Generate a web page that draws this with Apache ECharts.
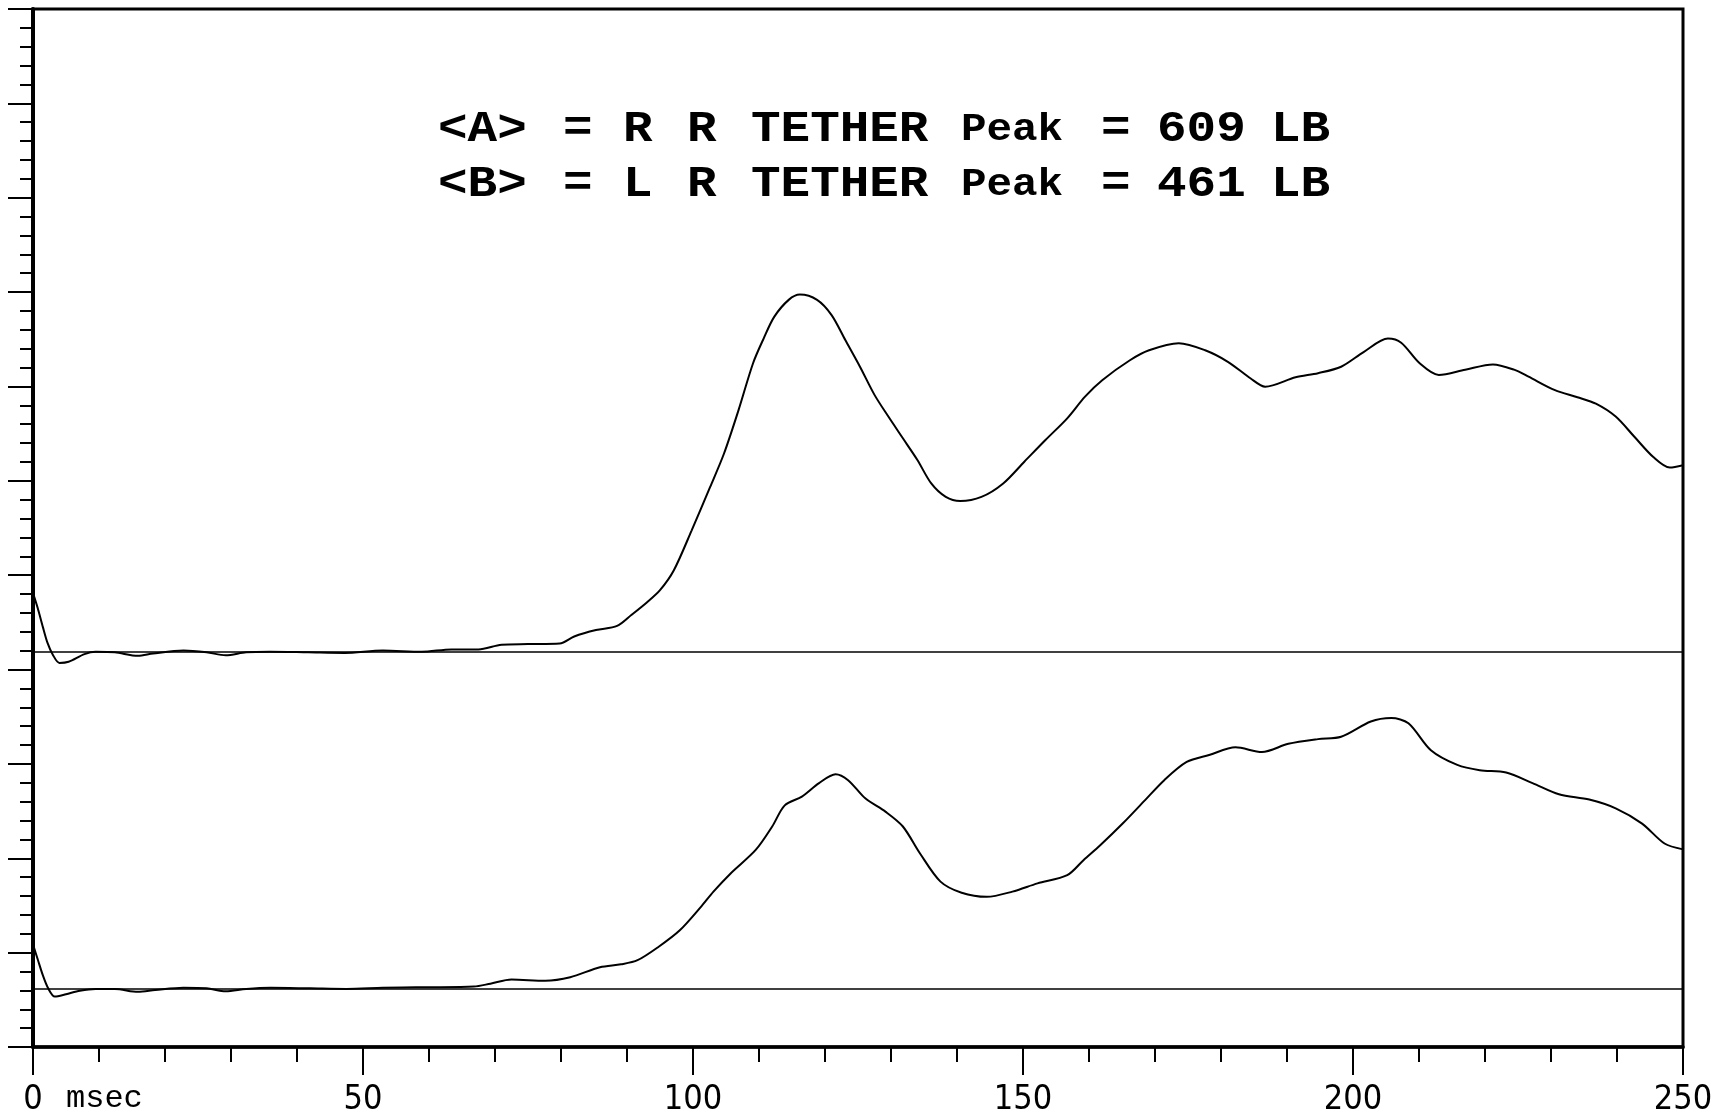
<!DOCTYPE html>
<html>
<head>
<meta charset="utf-8">
<script src="https://cdn.jsdelivr.net/npm/echarts@6/dist/echarts.min.js"></script>
<style>
html,body{margin:0;padding:0;background:#fff;}
#chart{width:1720px;height:1119px;}
</style>
</head>
<body>
<div id="chart"></div>
<script>
// ---- data (time in msec, force in LB, each trace relative to its own zero line) ----
const timeA = [0, 0.7, 1.5, 2.2, 3, 4, 5.4, 7.8, 9.5, 12.4, 15.9, 18.2, 22.8, 26.3, 29.2, 32.3, 35.9, 41.7, 47.2, 53, 58.9, 63.4, 67.5, 71, 75, 79.8, 82, 85.3, 88.5, 90.7, 93, 95, 97.1, 99.8, 102.6, 104.7, 106.9, 109.1, 110.7, 112.3, 114.5, 116.2, 118.8, 121, 123.1, 125.3, 127.5, 129.6, 131.8, 134, 136.1, 138.3, 140.5, 143.7, 147, 150.2, 153.4, 156.7, 159.4, 162, 166.2, 169.1, 173.6, 177.6, 181.1, 184.5, 186.7, 191.3, 194.7, 198.2, 201.6, 205.3, 207.3, 210.1, 213, 217, 221.2, 224.4, 226.6, 230.6, 234, 236.8, 239.8, 242.6, 245.5, 248, 250];
const forceA = [100, 75, 42, 15, -5, -19, -17, -4, 0, -1, -7, -3, 2, -1, -6, -1, 0, -1, -2, 2, 0, 4, 4, 12, 13, 14, 26, 37, 44, 63, 84, 105, 139, 207, 281, 338, 412, 492, 534, 571, 600, 609, 600, 574, 531, 486, 438, 401, 364, 327, 287, 264, 257, 264, 287, 324, 361, 398, 435, 463, 497, 514, 526, 514, 494, 466, 452, 468, 475, 486, 511, 534, 527, 492, 472, 481, 490, 481, 469, 446, 434, 423, 401, 367, 332, 314, 318];

const timeB = [0, 0.7, 1.5, 2.3, 3.3, 5, 7.1, 9.5, 12.4, 15.9, 18.5, 22.8, 26.3, 29.2, 32.3, 36, 42, 47.5, 53, 58, 61.7, 66.8, 69.3, 72.5, 77.6, 81.4, 85.9, 89.1, 91.6, 94.8, 98, 101.2, 103.1, 105.7, 109.5, 112, 113.9, 116.5, 119.1, 121.6, 123.5, 126.1, 129.2, 131.8, 134.4, 137.5, 140.7, 144.5, 148.4, 152.2, 156.7, 159.2, 161.7, 165.1, 168.5, 171.4, 174.8, 178.2, 182.2, 186.2, 190.2, 194.7, 198.2, 202.7, 205.8, 208.4, 211.8, 215.8, 219.2, 223.2, 227.2, 231.2, 235.8, 239.8, 243.8, 247.2, 250];
const forceB = [75, 50, 22, 0, -14, -10, -4, -1, -1, -6, -3, 1, 0, -5, -1, 1, 0, -1, 1, 2, 2, 3, 8, 15, 13, 19, 36, 41, 48, 71, 99, 139, 165, 196, 236, 276, 312, 327, 350, 365, 355, 324, 301, 276, 230, 182, 163, 156, 165, 179, 193, 219, 244, 281, 321, 355, 386, 398, 411, 403, 417, 425, 429, 455, 461, 452, 406, 381, 372, 368, 350, 331, 322, 307, 281, 247, 237];

const xTicks = [0, 50, 100, 150, 200, 250];
const titleA = ['<A>', '=', 'R', 'R', 'TETHER', 'Peak', '=', '609', 'LB'];
const titleB = ['<B>', '=', 'L', 'R', 'TETHER', 'Peak', '=', '461', 'LB'];

// ---- layout helpers ----
const wordX = [438, 563, 623, 687, 751, 961, 1101, 1157, 1271];
const BIG = 'bold 44px "Liberation Mono", "DejaVu Sans Mono", monospace';
const SMALL = 'bold 38px "Liberation Mono", "DejaVu Sans Mono", monospace';

function titleLine(words, y) {
  return words.map((w, i) => ({
    type: 'text',
    x: wordX[i],
    y: y,
    scaleX: 1.12,
    silent: true,
    style: {
      text: w,
      font: w === 'Peak' ? SMALL : BIG,
      fill: '#000',
      align: 'left',
      verticalAlign: 'middle'
    }
  }));
}

const chart = echarts.init(document.getElementById('chart'));
const labelFont = '"Liberation Sans Narrow", "DejaVu Sans Condensed", "Roboto Condensed", "Liberation Sans", sans-serif';

chart.setOption({
  animation: false,
  backgroundColor: '#fff',
  grid: {
    left: 33, right: 37, top: 9, bottom: 72,
    show: true, borderColor: '#000', borderWidth: 3, backgroundColor: 'transparent'
  },
  xAxis: {
    type: 'value', min: 0, max: 250, interval: 50,
    axisLine: { show: true, onZero: false, lineStyle: { color: '#000', width: 3.5 } },
    axisTick: { show: true, inside: false, length: 28, lineStyle: { color: '#000', width: 2 } },
    minorTick: { show: true, splitNumber: 5, length: 15, lineStyle: { color: '#000', width: 2 } },
    splitLine: { show: false },
    minorSplitLine: { show: false },
    axisLabel: {
      show: true, margin: 36, color: '#000', fontSize: 34, fontFamily: labelFont,
      formatter: v => xTicks.indexOf(v) >= 0 ? String(v) : ''
    }
  },
  yAxis: [
    {
      type: 'value', min: 0, max: 11, interval: 1, position: 'left',
      axisLine: { show: true, onZero: false, lineStyle: { color: '#000', width: 4 } },
      axisTick: { show: true, inside: false, length: 25, lineStyle: { color: '#000', width: 2 } },
      minorTick: { show: true, splitNumber: 5, length: 13, lineStyle: { color: '#000', width: 2 } },
      splitLine: { show: false },
      axisLabel: { show: false }
    },
    { type: 'value', min: -674, max: 1096, show: false, splitLine: { show: false } },
    { type: 'value', min: -100, max: 1670, show: false, splitLine: { show: false } }
  ],
  series: [
    {
      name: 'R R TETHER', type: 'line', yAxisIndex: 1,
      data: timeA.map((t, i) => [t, forceA[i]]),
      smooth: 0.3, showSymbol: false, silent: true,
      lineStyle: { color: '#000', width: 2 },
      markLine: {
        silent: true, symbol: ['none', 'none'], label: { show: false },
        lineStyle: { color: '#000', width: 1.5, type: 'solid' },
        data: [{ yAxis: 0 }]
      }
    },
    {
      name: 'L R TETHER', type: 'line', yAxisIndex: 2,
      data: timeB.map((t, i) => [t, forceB[i]]),
      smooth: 0.3, showSymbol: false, silent: true,
      lineStyle: { color: '#000', width: 2 },
      markLine: {
        silent: true, symbol: ['none', 'none'], label: { show: false },
        lineStyle: { color: '#000', width: 1.5, type: 'solid' },
        data: [{ yAxis: 0 }]
      }
    }
  ],
  graphic: [
    ...titleLine(titleA, 130),
    ...titleLine(titleB, 185),
    {
      type: 'text', x: 66, y: 1099, silent: true,
      style: { text: 'msec', font: '32px "Liberation Mono", monospace', fill: '#000', align: 'left', verticalAlign: 'middle' }
    }
  ]
});
</script>
</body>
</html>
